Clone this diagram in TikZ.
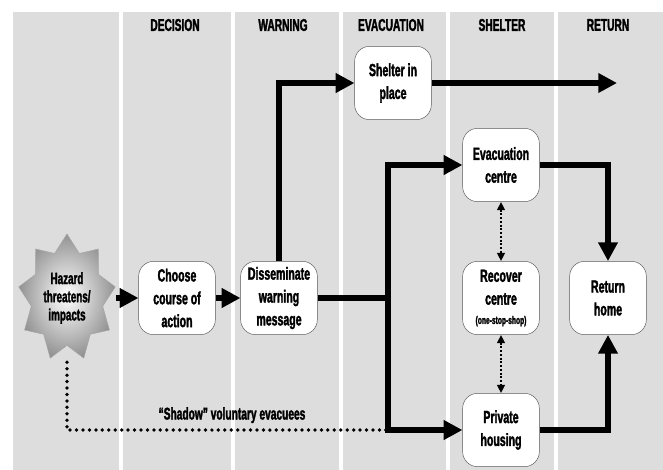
\documentclass[tikz,border=0pt]{standalone}
\usepackage{fontspec}
\newfontfamily\narrowsans{Liberation Sans}[FakeStretch=0.6, BoldFeatures={FakeBold=1.8}]
\usetikzlibrary{shapes,arrows.meta,positioning,calc}
\definecolor{lanegray}{RGB}{221,221,221}

\begin{document}
\begin{tikzpicture}[x=0.03cm, y=-0.03cm]
  \tikzstyle{stage}=[rectangle, draw=black!65, fill=white, rounded corners=0.45cm, minimum width=2.3cm, minimum height=2.2cm, inner sep=1pt, align=center, font=\narrowsans\bfseries\fontsize{15}{19.5}\selectfont]
  \tikzstyle{lanetitle}=[font=\narrowsans\bfseries\fontsize{14.5}{16}\selectfont]
  \tikzstyle{flow}=[line width=5pt, -{Triangle[length=16pt,width=16pt]}]
  \tikzstyle{flowline}=[line width=5pt]
  \tikzstyle{link}=[line width=1.6pt, dash pattern=on 1.6pt off 1.6pt, {Triangle[length=7pt,width=6.5pt]}-{Triangle[length=7pt,width=6.5pt]}]
  \tikzstyle{shadowpath}=[line width=3.2pt, line cap=round, dash pattern=on 0pt off 5.5pt]

  \useasboundingbox (0,0) rectangle (663,470);

  % lanes and titles
  \foreach \l/\r in {13/119, 123/231, 235/339, 343/446, 450/554, 558/663}
    \fill[lanegray] (\l,12) rectangle (\r,470);
  \foreach \x/\t in {175/DECISION, 283/WARNING, 391/EVACUATION, 502/SHELTER, 608/RETURN}
    \node[lanetitle] (lane-\t) at (\x,25) {\t};

  % hazard star
  \shade[inner color=white, outer color=gray!85, draw=gray!70] (67,234)
    \foreach \k [evaluate=\k as \r using {mod(\k,2)==0 ? 1 : 0.74}] in {1,...,17}
      { -- ({67+49*\r*cos(90+20*\k)},{298-64*\r*sin(90+20*\k)}) } -- cycle;
  \node[ellipse, minimum width=2.94cm, minimum height=3.84cm, inner sep=0pt, align=center,
        font=\narrowsans\bfseries\fontsize{14}{15.5}\selectfont] (hazard) at (67,298) {Hazard\\threatens/\\impacts};

  % stages
  \node[stage] (choose) at (177,298) {Choose\\course of\\action};
  \node[stage] (dissem) at (279,298) {Disseminate\\warning\\message};
  \node[stage] (shelter) at (393,83) {Shelter in\\place};
  \node[stage] (evac) at (501,165) {Evacuation\\centre};
  \node[stage] (recover) at (501,298) {Recover\\centre\\[-3pt]{\fontsize{9.5}{10}\selectfont (one-stop-shop)}};
  \node[stage] (home) at (608,298) {Return\\home};
  \node[stage] (private) at (501,430) {Private\\housing};

  \coordinate (sip-end) at (617,83);
  \coordinate (split) at (388,298);

  % main flow
  \draw[flow] (hazard) -- (choose);
  \draw[flow] (choose) -- (dissem);
  \draw[flow] (dissem.north) |- (shelter.west);
  \draw[flow] (shelter.east) -- (sip-end);
  \draw[flowline] (dissem.east) -- (split);
  \draw[flow] (split) |- (evac.west);
  \draw[flow] (split) |- (private.west);
  \draw[flow] (evac.east) -| (home.north);
  \draw[flow] (private.east) -| (home.south);
  % shelter options
  \draw[link] (evac) -- (recover);
  \draw[link] (recover) -- (private);
  % voluntary evacuees
  \draw[shadowpath] (hazard.south) |- node[pos=0.757, above=1pt, font=\narrowsans\bfseries\fontsize{14.5}{16}\selectfont] (shadow-label) {“Shadow” voluntary evacuees} (split |- private.west);
\end{tikzpicture}
\end{document}
